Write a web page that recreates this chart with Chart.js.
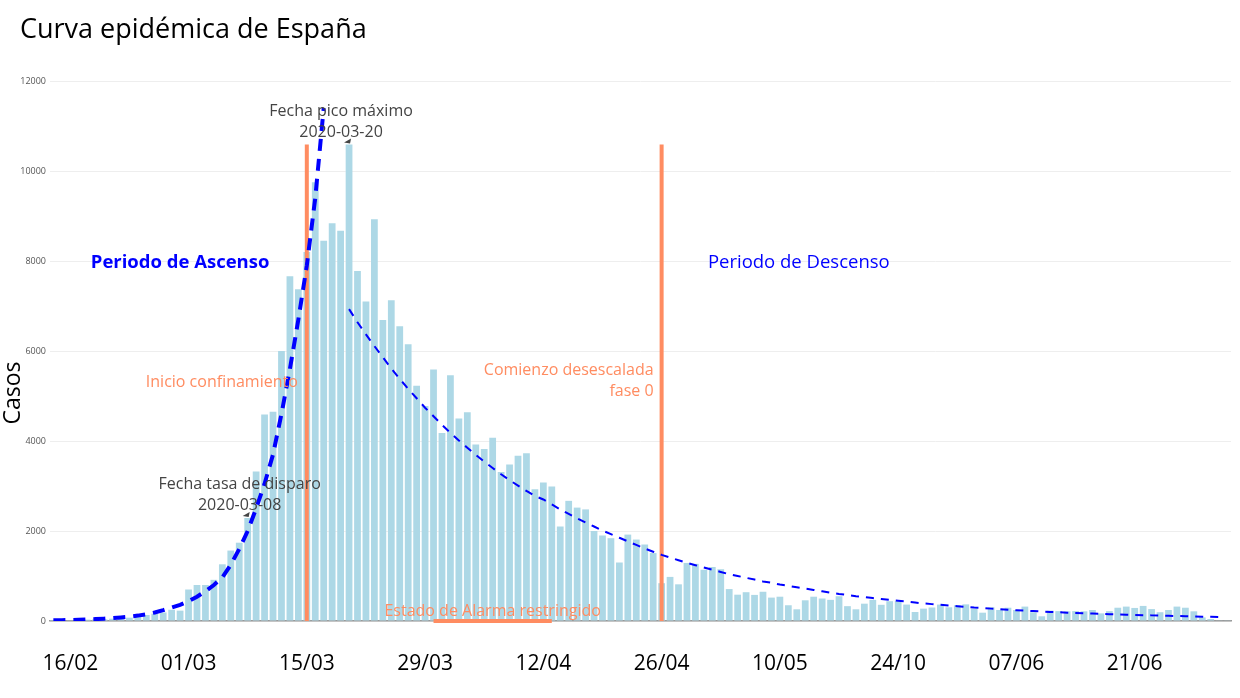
<!DOCTYPE html>
<html>
<head>
<meta charset="utf-8">
<script src="https://cdn.jsdelivr.net/npm/chart.js@4.4.1/dist/chart.umd.min.js"></script>
<style>
  html, body { margin: 0; padding: 0; background: #fff; }
</style>
</head>
<body>
<canvas id="chart" width="1240" height="698"></canvas>
<script>
// casos diarios desde el 14/02/2020 (un valor por dia)
const casos = [
  3, 7, 15, 22, 30, 37, 37, 52, 67, 74, 104, 133, 163, 190, 250, 230,
  700, 800, 800, 915, 1260, 1565, 1740, 2290, 3320, 4590, 4650, 6000, 7660, 7370, 8200,
  9750, 8450, 8840, 8670, 10590, 7780, 7100, 8930, 6690, 7130, 6550, 6150, 5230, 4780, 5590, 4180,
  5460, 4500, 4640, 3920, 3820, 4070, 3310, 3480, 3670, 3730, 2930, 3080, 2990, 2100, 2670,
  2520, 2480, 2000, 1900, 1840, 1300, 1920, 1810, 1700, 1510, 840, 980, 815, 1290, 1270,
  1140, 1200, 1150, 710, 585, 640, 580, 650, 520, 540, 350, 260, 460, 540, 500, 470,
  550, 330, 260, 385, 470, 360, 440, 440, 365, 200, 275, 300, 365, 305, 350,
  370, 275, 185, 305, 245, 295, 245, 320, 195, 105, 230, 220, 215, 220, 215, 245,
  170, 220, 295, 320, 290, 335, 265, 195, 245, 320, 295, 215, 80, 45,
  8, 8
];

// curva de ascenso (desde 14/02) y de descenso (desde 20/03)
const ascensoStart = '14/02';
const ascenso = [
  14, 18, 22, 27, 34, 42, 52, 65, 80, 98,
  120, 150, 190, 240, 300, 360, 440, 540, 660, 800,
  970, 1250, 1600, 2000, 2500, 3050, 3700, 4600, 5600, 6700,
  7900, 9400, 11400
];
const descensoStart = '20/03';
const descenso = [
  6930, 6640, 6370, 6110, 5860, 5610, 5380, 5160, 4950, 4740,
  4550, 4360, 4180, 4010, 3850, 3690, 3540, 3400, 3260, 3130,
  3010, 2890, 2780, 2700, 2590, 2480, 2380, 2280, 2190, 2100,
  2010, 1930, 1850, 1770, 1690, 1610, 1540, 1470, 1410, 1350,
  1290, 1240, 1190, 1140, 1090, 1040, 1000, 960, 920, 880,
  850, 810, 780, 750, 720, 690, 660, 630, 600, 580,
  550, 530, 510, 490, 470, 450, 430, 410, 390, 375,
  360, 345, 330, 315, 300, 290, 275, 265, 250, 240,
  230, 220, 210, 200, 195, 185, 180, 170, 165, 160,
  152, 146, 140, 135, 130, 125, 120, 115, 110, 106,
  101, 97, 93, 89
];

const tickDates = ['16/02', '01/03', '15/03', '29/03', '12/04', '26/04', '10/05', '24/05', '07/06', '21/06'];
const tickText  = ['16/02', '01/03', '15/03', '29/03', '12/04', '26/04', '10/05', '24/10', '07/06', '21/06'];
const yTicks = [0, 2000, 4000, 6000, 8000, 10000, 12000];

const vlineDates = ['15/03', '26/04'];
const vlineTop = 10590;
const alarmaDates = ['30/03', '13/04'];
const picoDate = '20/03';
const disparoDate = '08/03';

const ORANGE = '#ff8c61';
const BLUE = '#0000ff';

const fechas = casos.map((_, i) => {
  const d = new Date(Date.UTC(2020, 1, 14 + i));
  return String(d.getUTCDate()).padStart(2, '0') + '/' + String(d.getUTCMonth() + 1).padStart(2, '0');
});
const idx = f => fechas.indexOf(f);
const tickPos = tickDates.map(idx);

function lines(ctx, txt, cx, cy, font, color, align, lh) {
  ctx.font = font;
  ctx.fillStyle = color;
  ctx.textAlign = align;
  ctx.textBaseline = 'middle';
  txt.forEach((t, k) => ctx.fillText(t, cx, cy + (k - (txt.length - 1) / 2) * lh));
}

function arrowNote(ctx, x, y, fecha, txt) {
  const px = x.getPixelForValue(idx(fecha));
  const py = y.getPixelForValue(casos[idx(fecha)]);
  lines(ctx, txt, px - 8, py - 23, '16px "Open Sans"', '#444', 'center', 21);
  ctx.fillStyle = '#444';
  ctx.beginPath();
  ctx.moveTo(px - 5, py - 2);
  ctx.lineTo(px + 2, py - 6);
  ctx.lineTo(px + 1, py - 1);
  ctx.closePath();
  ctx.fill();
}

const overlay = {
  id: 'overlay',
  afterDatasetDraw(chart, args) {
    if (args.index !== 0) return;
    const { ctx, scales: { x, y } } = chart;
    ctx.save();
    ctx.strokeStyle = ORANGE;
    ctx.lineWidth = 4;
    vlineDates.forEach(f => {
      const px = x.getPixelForValue(idx(f));
      ctx.beginPath();
      ctx.moveTo(px, y.getPixelForValue(0));
      ctx.lineTo(px, y.getPixelForValue(vlineTop));
      ctx.stroke();
    });
    ctx.restore();
  },
  afterDraw(chart) {
    const { ctx, scales: { x, y } } = chart;
    ctx.save();
    // titulo
    ctx.font = '27px "Open Sans"';
    ctx.fillStyle = '#000';
    ctx.textAlign = 'left';
    ctx.textBaseline = 'alphabetic';
    ctx.fillText('Curva epidémica de España', 20, 38);
    // eje y
    ctx.save();
    ctx.translate(13, 393);
    ctx.rotate(-Math.PI / 2);
    lines(ctx, ['Casos'], 0, 0, '23px "Open Sans"', '#000', 'center', 22);
    ctx.restore();

    lines(ctx, ['Periodo de Ascenso'], x.getPixelForValue(idx('29/02')), y.getPixelForValue(8000) + 2,
      'bold 18.5px "Open Sans"', BLUE, 'center', 20);
    lines(ctx, ['Periodo de Descenso'], x.getPixelForValue(idx('12/05')) + 2, y.getPixelForValue(8000) + 2,
      '18.5px "Open Sans"', BLUE, 'center', 20);

    lines(ctx, ['Inicio confinamiento'], x.getPixelForValue(idx(vlineDates[0])) - 9, y.getPixelForValue(5310),
      '16px "Open Sans"', ORANGE, 'right', 21);
    lines(ctx, ['Comienzo desescalada', 'fase 0'], x.getPixelForValue(idx(vlineDates[1])) - 8, y.getPixelForValue(5330),
      '16px "Open Sans"', ORANGE, 'right', 21);

    const ax = (x.getPixelForValue(idx(alarmaDates[0])) + x.getPixelForValue(idx(alarmaDates[1]))) / 2;
    lines(ctx, ['Estado de Alarma restringido'], ax, y.getPixelForValue(0) - 10,
      '16px "Open Sans"', ORANGE, 'center', 21);

    arrowNote(ctx, x, y, picoDate, ['Fecha pico máximo', '2020-03-20']);
    arrowNote(ctx, x, y, disparoDate, ['Fecha tasa de disparo', '2020-03-08']);
    ctx.restore();
  }
};

new Chart(document.getElementById('chart'), {
  type: 'bar',
  data: {
    datasets: [
      {
        type: 'bar',
        data: casos.map((v, i) => ({ x: i, y: v })),
        backgroundColor: '#add8e6',
        barPercentage: 0.8,
        categoryPercentage: 1,
        order: 2
      },
      {
        type: 'line',
        data: ascenso.map((v, j) => ({ x: idx(ascensoStart) + j, y: v })),
        borderColor: BLUE,
        borderWidth: 4,
        borderDash: [12, 8],
        pointRadius: 0,
        fill: false,
        order: 1
      },
      {
        type: 'line',
        data: descenso.map((v, j) => ({ x: idx(descensoStart) + j, y: v })),
        borderColor: BLUE,
        borderWidth: 2,
        borderDash: [8, 7],
        pointRadius: 0,
        fill: false,
        order: 1
      },
      {
        type: 'line',
        data: alarmaDates.map(f => ({ x: idx(f), y: 0 })),
        borderColor: ORANGE,
        borderWidth: 4,
        pointRadius: 0,
        clip: false,
        order: 0
      }
    ]
  },
  options: {
    responsive: false,
    animation: false,
    layout: { padding: { top: 81, right: 9, bottom: 0, left: 0 } },
    plugins: { legend: { display: false }, tooltip: { enabled: false } },
    scales: {
      x: {
        type: 'linear',
        min: -0.4,
        max: 139.4,
        offset: false,
        grid: { display: false, offset: false },
        border: { display: true, color: '#999', width: 1.5 },
        afterBuildTicks: s => { s.ticks = tickPos.map(v => ({ value: v })); },
        afterFit: s => { s.height = 77; },
        ticks: {
          autoSkip: false,
          maxRotation: 0,
          padding: 22,
          color: '#000',
          font: { family: 'Open Sans', size: 21 },
          callback: v => tickText[tickPos.indexOf(v)]
        }
      },
      y: {
        min: 0,
        max: 12000,
        afterBuildTicks: s => { s.ticks = yTicks.map(v => ({ value: v })); },
        afterFit: s => { s.width = 50; },
        ticks: { padding: 4, color: '#555', font: { family: 'Open Sans', size: 9 }, callback: v => String(v) },
        grid: { color: '#eee', drawTicks: false },
        border: { display: false }
      }
    }
  },
  plugins: [overlay]
});
</script>
</body>
</html>
